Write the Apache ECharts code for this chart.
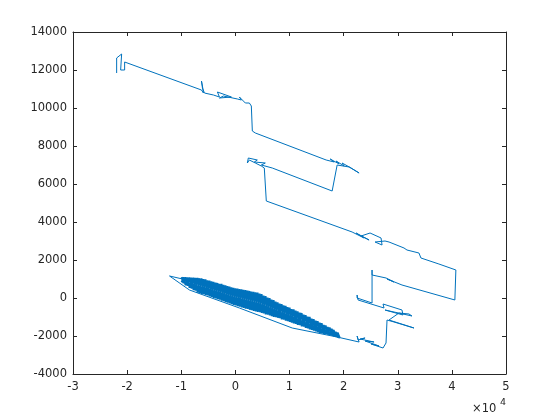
<!DOCTYPE html>
<html>
<head>
<meta charset="utf-8">
<script src="https://cdn.jsdelivr.net/npm/echarts@6/dist/echarts.min.js"></script>
<style>
  html, body { margin: 0; padding: 0; background: #fff; }
  #track-echarts { width: 560px; height: 420px; }
</style>
</head>
<body>
<div id="track-echarts"></div>
<script>
// 轨迹数据（x 为原始值，刻度按 ×10^4 显示）
var trackX = [
  -21935, -21935, -21014, -21198, -20461, -20461,
  -6267, -5898, -6083, -6267, -6083, -5714,
  -4055, -4424, -2949, -3318, -737, -1106, -2949, -2212, 369, 1106, 737, 1843, 1475, 2581, 2949, 3134, 3687,
  16774, 18249, 17512, 19170, 18617, 20092, 19723, 21382, 22857, 21014, 18802, 17880,
  6820, 4793, 5530, 3502, 4055, 2396, 2212, 2581, 3687, 4793, 5346, 5714,
  21567, 23779, 22304, 24700, 23226, 24885, 26912, 27097, 25806, 27650, 28387, 31152, 31705, 33917, 34285, 37603, 40737,
  40553, 30783, 28018, 29308, 27834, 25253, 25253, 25253,
  22488, 22488, 22673, 27465, 27281, 30783, 30968, 27650, 29308, 32626, 32073, 30230, 28387, 32995, 31152, 29308, 28018, 27834,
  27281, 25069, 26544, 23963, 25622, 23042, 23963, 22673, 22488, 22857,
  18802, 10507, 737, -8479, -12166, -9770
];
var trackY = [
  11842, 12632, 12842, 12000, 12000, 12421,
  10947, 10789, 11158, 11421, 11053, 10789,
  10684, 10737, 10579, 10842, 10579, 10474, 10526, 10631, 10474, 10421, 10579, 10263, 10368, 10263, 10105, 8789, 8684,
  7263, 7158, 7316, 7053, 7211, 6947, 7105, 6842, 6579, 6895, 7000, 5631,
  6842, 7000, 7105, 7158, 7263, 7368, 7105, 7263, 7105, 6947, 6842, 5105,
  3474, 3158, 3421, 3053, 3263, 3421, 3158, 2789, 2947, 3000, 2947, 2632, 2526, 2368, 2105, 1789, 1474,
  -105, 684, 1000, 842, 1053, 1211, 1474, -263,
  0, 158, -105, -526, -316, -632, -895, -632, -737, -947, -842, -789, -1158, -1579, -1421, -1263, -1158, -2368,
  -2632, -2421, -2526, -2263, -2316, -2158, -2105, -2211, -2000, -2316,
  -2053, -1579, -526, 421, 1158, 1000
];

// 左下密集段：向右一趟
var blobX = [
  -9950, -9580, -9210, -8840, -8470, -8100, -7730, -7360, -6990, -6620,
  -6250, -5880, -5510, -5140, -4770, -4400, -4030, -3660, -3290, -2920,
  -2550, -2180, -1810, -1440, -1070, -700, -330, 40, 410, 780,
  1150, 1520, 1890, 2260, 2630, 3000, 3370, 3740, 4110, 4480,
  4850, 5220, 5590, 5960, 6330, 6700, 7070, 7440, 7810, 8180,
  8550, 8920, 9290, 9660, 10030, 10400, 10770, 11140, 11510, 11880,
  12250, 12620, 12990, 13360, 13730, 14100, 14470, 14840, 15210, 15580,
  15950, 16320, 16690, 17060, 17430, 17800, 18170, 18540, 18910, 19280
];
var blobY = [
  1100, 780, 1090, 640, 1080, 500, 1070, 390, 1060, 260,
  1030, 200, 980, 140, 920, 60, 850, -20, 790, -80,
  740, -160, 670, -240, 600, -320, 540, -390, 490, -450,
  460, -520, 420, -580, 370, -640, 330, -700, 280, -740,
  200, -810, 100, -880, 0, -950, -110, -1010, -230, -1060,
  -320, -1140, -410, -1220, -510, -1290, -600, -1360, -700, -1430,
  -790, -1510, -900, -1600, -1000, -1680, -1110, -1760, -1220, -1830,
  -1330, -1880, -1440, -1930, -1550, -1980, -1680, -2040, -1820, -2080
];

// 左下密集段：往回一趟（与去程错开半个折距）
var blobBackX = [
  18910, 18540, 18170, 17800, 17430, 17060, 16690, 16320, 15950, 15580,
  15210, 14840, 14470, 14100, 13730, 13360, 12990, 12620, 12250, 11880,
  11510, 11140, 10770, 10400, 10030, 9660, 9290, 8920, 8550, 8180,
  7810, 7440, 7070, 6700, 6330, 5960, 5590, 5220, 4850, 4480,
  4110, 3740, 3370, 3000, 2630, 2260, 1890, 1520, 1150, 780,
  410, 40, -330, -700, -1070, -1440, -1810, -2180, -2550, -2920,
  -3290, -3660, -4030, -4400, -4770, -5140, -5510, -5880, -6250, -6620,
  -6990, -7360, -7730, -8100, -8470, -8840, -9210, -9580, -9950
];
var blobBackY = [
  -2060, -1780, -2020, -1620, -1960, -1520, -1900, -1420, -1860, -1300,
  -1800, -1190, -1720, -1090, -1650, -980, -1570, -870, -1490, -770,
  -1410, -670, -1330, -580, -1260, -480, -1190, -390, -1120, -290,
  -1040, -190, -990, -80, -920, 20, -860, 120, -790, 230,
  -730, 300, -680, 340, -620, 390, -560, 430, -500, 470,
  -430, 510, -360, 560, -290, 620, -220, 690, -140, 750,
  -60, 810, 0, 870, 80, 930, 160, 990, 220, 1040,
  280, 1060, 420, 1070, 530, 1080, 670, 1090, 820
];

var fontColor = "#262626";
var lineColor = "#0072BD";

function zip(xs, ys) {
  return xs.map(function(x, i) { return [x, ys[i]]; });
}

function xAxisCfg(pos, showLabel) {
  return {
    type: "value",
    position: pos,
    min: -30000,
    max: 50000,
    interval: 10000,
    axisLine: { show: true, onZero: false, lineStyle: { color: fontColor, width: 1 } },
    axisTick: { show: true, inside: true, length: 4, lineStyle: { color: fontColor } },
    splitLine: { show: false },
    axisLabel: {
      show: showLabel,
      margin: 7,
      color: fontColor,
      fontSize: 11.5,
      fontFamily: "DejaVu Sans",
      formatter: function(v) { return String(v / 10000); }
    }
  };
}

function yAxisCfg(pos, showLabel) {
  return {
    type: "value",
    position: pos,
    min: -4000,
    max: 14000,
    interval: 2000,
    axisLine: { show: true, onZero: false, lineStyle: { color: fontColor, width: 1 } },
    axisTick: { show: true, inside: true, length: 4, lineStyle: { color: fontColor } },
    splitLine: { show: false },
    axisLabel: {
      show: showLabel,
      margin: 6,
      color: fontColor,
      fontSize: 11.5,
      fontFamily: "DejaVu Sans",
      formatter: function(v) { return String(v); }
    }
  };
}

var option = {
  animation: false,
  backgroundColor: "#fff",
  grid: { left: 73, top: 32, width: 433, height: 342, containLabel: false },
  xAxis: [xAxisCfg("bottom", true), xAxisCfg("top", false)],
  yAxis: [yAxisCfg("left", true), yAxisCfg("right", false)],
  graphic: [
    {
      type: "text",
      x: 472,
      y: 403,
      style: { text: "×10", fill: fontColor, fontSize: 11.5, fontFamily: "DejaVu Sans", verticalAlign: "top" }
    },
    {
      type: "text",
      x: 500,
      y: 398,
      style: { text: "4", fill: fontColor, fontSize: 9.5, fontFamily: "DejaVu Sans", verticalAlign: "top" }
    }
  ],
  series: [
    {
      type: "line",
      showSymbol: false,
      symbol: "none",
      clip: true,
      lineStyle: { color: lineColor, width: 1 },
      data: zip(trackX, trackY)
    },
    {
      type: "line",
      showSymbol: false,
      symbol: "none",
      clip: true,
      lineStyle: { color: lineColor, width: 1.8 },
      data: zip(blobX.concat(blobBackX), blobY.concat(blobBackY))
    }
  ]
};

var myChart = echarts.init(document.getElementById("track-echarts"), null, { renderer: "canvas" });
myChart.setOption(option);
</script>
</body>
</html>
